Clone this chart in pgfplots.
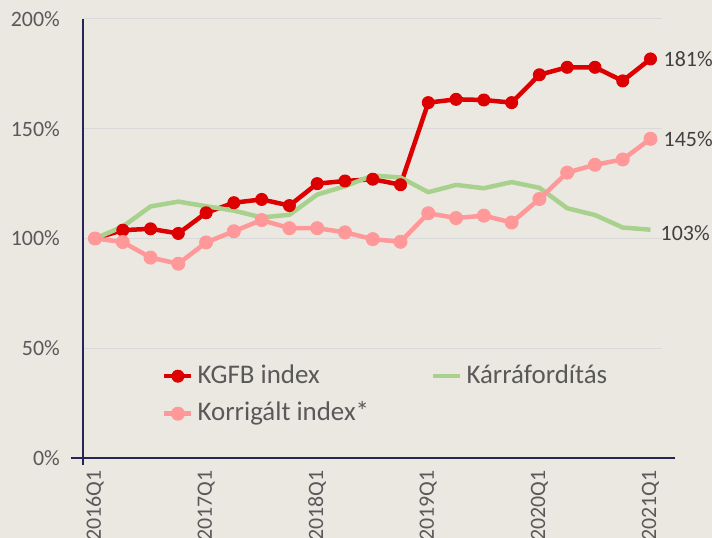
\documentclass[border=0pt]{standalone}
\usepackage{fontspec}
\setmainfont{Carlito}
\usepackage{pgfplots}
\pgfplotsset{compat=1.18}
\definecolor{bg}{RGB}{235,232,226}
\definecolor{kred}{RGB}{220,0,0}
\definecolor{kpink}{RGB}{255,153,153}
\definecolor{kgreen}{RGB}{169,209,142}
\definecolor{axcol}{RGB}{38,38,86}
\definecolor{gridc}{RGB}{217,217,217}
\definecolor{tickc}{RGB}{89,89,89}
\definecolor{labc}{RGB}{64,64,64}
\begin{document}
\begin{tikzpicture}
\path[use as bounding box] (-83bp,-80bp) rectangle (629bp,458bp);
\clip (-83bp,-80bp) rectangle (629bp,458bp);
\fill[bg] (-83bp,-80bp) rectangle (629bp,458bp);
\begin{axis}[
 at={(0,0)}, anchor=south west,
 scale only axis, width=579bp, height=439bp,
 xmin=-0.432, xmax=20.414, ymin=0, ymax=200,
 clip=false,
 axis x line*=bottom, axis y line*=left,
 axis line style={-, draw=axcol, line width=2bp},
 x axis line style={shorten <=-12bp, shorten >=-13bp},
 y axis line style={shorten <=-7bp},
 xtick={0,4,8,12,16,20},
 xticklabels={2016Q1,2017Q1,2018Q1,2019Q1,2020Q1,2021Q1},
 ytick={0,50,100,150,200},
 yticklabels={0\%,50\%,100\%,150\%,200\%},
 major tick length=0pt, tick style={draw=none},
 ymajorgrids, grid style={gridc, line width=1bp},
 /pgf/number format/assume math mode=true,
 xticklabel style={yshift=-12bp, rotate=90, anchor=east, inner sep=0pt, font=\fontsize{22}{26}\selectfont, text=tickc},
 yticklabel style={inner sep=0pt, xshift=-23bp, font=\fontsize{22}{26}\selectfont, text=tickc},
 legend columns=2,
 legend cell align=left,
 legend style={draw=none, fill=none, at={(axis description cs:0.1364,0.2164)}, anchor=north west, inner sep=0pt, row sep=11.5bp,
   nodes={inner sep=0pt, text=tickc, font=\fontsize{27}{32}\selectfont, text height=20bp, text depth=6bp},
   /tikz/every even column/.append style={column sep=62bp},
   /tikz/every odd column/.append style={column sep=4bp}},
 legend image code/.code={\draw[mark repeat=2, mark phase=2] plot coordinates {(0bp,0bp)(13.5bp,0bp)(27bp,0bp)};},
]
\addplot[kred, line width=4.5bp, line join=round, mark=*, mark size=6bp, mark options={solid, fill=kred, draw=kred, line width=1bp}] coordinates {
(0,100) (1,103.8) (2,104.4) (3,102.3) (4,111.7) (5,116.3) (6,117.8) (7,115) (8,125) (9,126.2) (10,127) (11,124.5)
(12,161.9) (13,163.4) (14,163.1) (15,161.9) (16,174.6) (17,178) (18,178) (19,171.8) (20,181.8)};
\addlegendentry{KGFB index}
\addplot[kgreen, line width=4.5bp, line join=round] coordinates {
(0,100) (1,105.4) (2,114.6) (3,116.8) (4,114.7) (5,112.7) (6,109.6) (7,110.8) (8,120) (9,123.8) (10,128.7) (11,127.8)
(12,121.1) (13,124.4) (14,122.9) (15,125.7) (16,123.1) (17,113.8) (18,110.7) (19,105) (20,104)};
\addlegendentry{Kárráfordítás}
\addplot[kpink, line width=4.5bp, line join=round, mark=*, mark size=6.5bp, mark options={solid, fill=kpink, draw=kpink, line width=1bp}] coordinates {
(0,100) (1,98.4) (2,91.3) (3,88.5) (4,98.2) (5,103.3) (6,108.4) (7,104.7) (8,104.7) (9,102.8) (10,99.7) (11,98.5)
(12,111.5) (13,109.3) (14,110.4) (15,107.3) (16,118) (17,130) (18,133.6) (19,136) (20,145.4)};
\addlegendentry{Korrigált index*}
\node[anchor=west, xshift=13bp, inner sep=0pt, text=labc, font=\fontsize{22}{26}\selectfont] at (axis cs:20,181.8) {181\%};
\node[anchor=west, xshift=13bp, inner sep=0pt, text=labc, font=\fontsize{22}{26}\selectfont] at (axis cs:20,145.4) {145\%};
\node[anchor=west, xshift=10bp, inner sep=0pt, text=labc, font=\fontsize{22}{26}\selectfont] at (axis cs:20,102.6) {103\%};
\end{axis}
\end{tikzpicture}
\end{document}
